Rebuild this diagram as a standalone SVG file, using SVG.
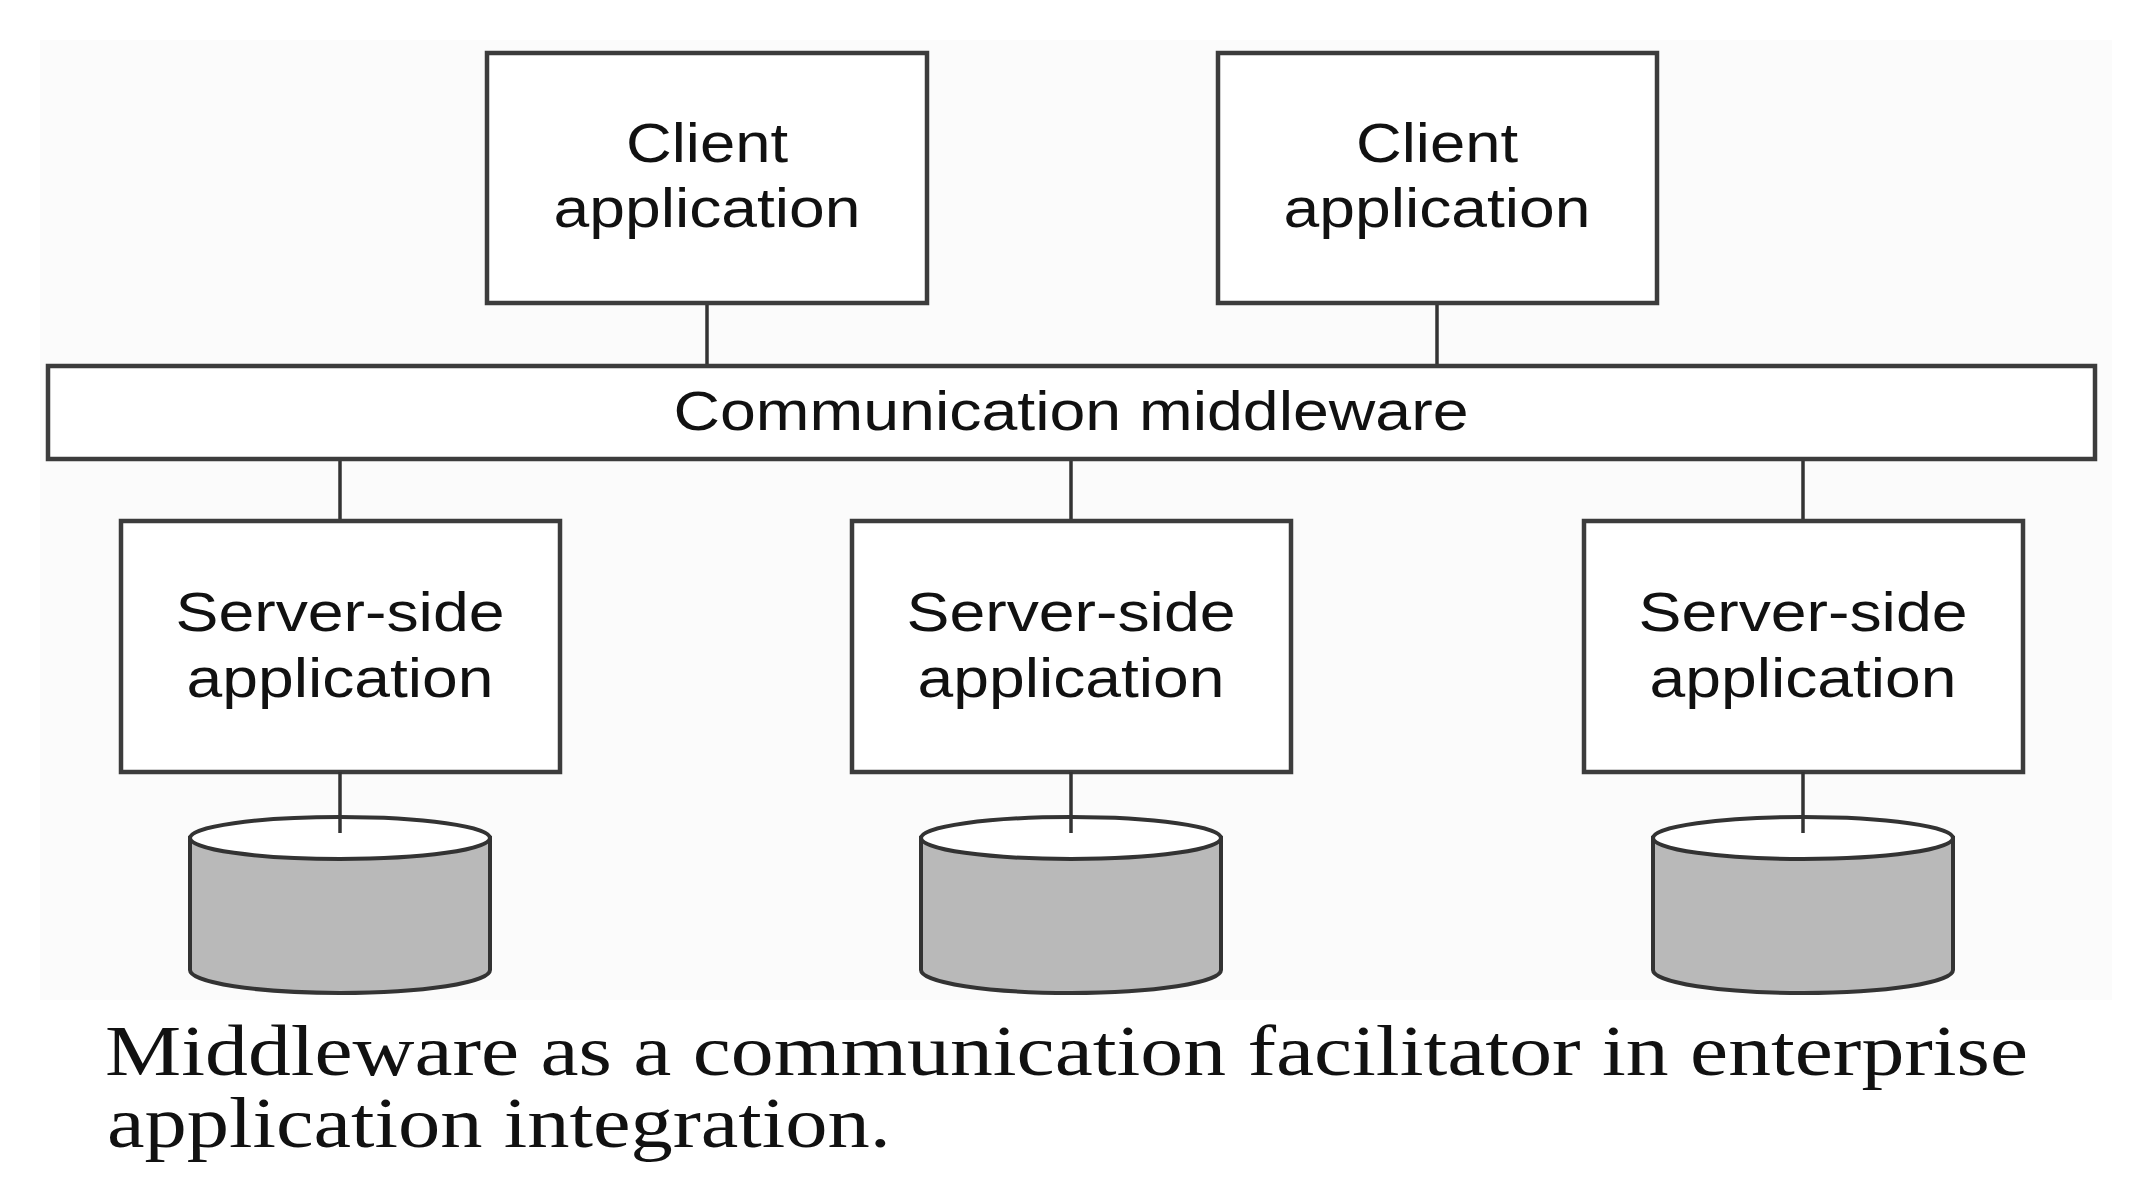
<svg xmlns="http://www.w3.org/2000/svg" width="2156" height="1202" viewBox="0 0 2156 1202">
<style>
.box{fill:#ffffff;stroke:#3c3c3c;stroke-width:4.5}
.lbl{font-family:Arial,"Liberation Sans",Helvetica,sans-serif;font-size:56px;fill:#111111;text-anchor:middle}
.conn{stroke:#333333;stroke-width:3.5;fill:none}
.cylbody{fill:#b9b9b9;stroke:#333333;stroke-width:4}
.cyltop{fill:#ffffff;stroke:#333333;stroke-width:4}
.cap{font-family:"Times New Roman","Liberation Serif",Times,serif;font-size:72px;fill:#111111}
</style>
<rect x="0" y="0" width="2156" height="1202" fill="#ffffff"/>
<rect x="40" y="40" width="2072" height="960" fill="#fbfbfb"/>

<g id="connectors">
<line class="conn" x1="707" y1="303" x2="707" y2="366"/>
<line class="conn" x1="1437" y1="303" x2="1437" y2="366"/>
<line class="conn" x1="340" y1="459" x2="340" y2="521"/>
<line class="conn" x1="1071" y1="459" x2="1071" y2="521"/>
<line class="conn" x1="1803" y1="459" x2="1803" y2="521"/>
</g>

<g id="client1">
<rect class="box" x="487" y="53" width="440" height="250"/>
<text class="lbl" x="707" y="162" textLength="162" lengthAdjust="spacingAndGlyphs">Client</text>
<text class="lbl" x="707" y="227" textLength="307" lengthAdjust="spacingAndGlyphs">application</text>
</g>
<g id="client2">
<rect class="box" x="1218" y="53" width="439" height="250"/>
<text class="lbl" x="1437" y="162" textLength="162" lengthAdjust="spacingAndGlyphs">Client</text>
<text class="lbl" x="1437" y="227" textLength="307" lengthAdjust="spacingAndGlyphs">application</text>
</g>

<g id="middleware">
<rect class="box" x="48" y="366" width="2047" height="93"/>
<text class="lbl" x="1071" y="430" textLength="795" lengthAdjust="spacingAndGlyphs">Communication middleware</text>
</g>

<g id="server1">
<rect class="box" x="121" y="521" width="439" height="251"/>
<text class="lbl" x="340" y="631" textLength="329" lengthAdjust="spacingAndGlyphs">Server-side</text>
<text class="lbl" x="340" y="697" textLength="307" lengthAdjust="spacingAndGlyphs">application</text>
</g>
<g id="server2">
<rect class="box" x="852" y="521" width="439" height="251"/>
<text class="lbl" x="1071" y="631" textLength="329" lengthAdjust="spacingAndGlyphs">Server-side</text>
<text class="lbl" x="1071" y="697" textLength="307" lengthAdjust="spacingAndGlyphs">application</text>
</g>
<g id="server3">
<rect class="box" x="1584" y="521" width="439" height="251"/>
<text class="lbl" x="1803" y="631" textLength="329" lengthAdjust="spacingAndGlyphs">Server-side</text>
<text class="lbl" x="1803" y="697" textLength="307" lengthAdjust="spacingAndGlyphs">application</text>
</g>

<g id="db1">
<path class="cylbody" d="M190,838 L190,970 A150,23 0 0 0 490,970 L490,838 Z"/>
<ellipse class="cyltop" cx="340" cy="838" rx="150" ry="21"/>
<line class="conn" x1="340" y1="772" x2="340" y2="833"/>
</g>
<g id="db2">
<path class="cylbody" d="M921,838 L921,970 A150,23 0 0 0 1221,970 L1221,838 Z"/>
<ellipse class="cyltop" cx="1071" cy="838" rx="150" ry="21"/>
<line class="conn" x1="1071" y1="772" x2="1071" y2="833"/>
</g>
<g id="db3">
<path class="cylbody" d="M1653,838 L1653,970 A150,23 0 0 0 1953,970 L1953,838 Z"/>
<ellipse class="cyltop" cx="1803" cy="838" rx="150" ry="21"/>
<line class="conn" x1="1803" y1="772" x2="1803" y2="833"/>
</g>

<g id="caption">
<text class="cap" x="105" y="1075" textLength="1923" lengthAdjust="spacingAndGlyphs">Middleware as a communication facilitator in enterprise</text>
<text class="cap" x="107" y="1147" textLength="784" lengthAdjust="spacingAndGlyphs">application integration.</text>
</g>
</svg>
